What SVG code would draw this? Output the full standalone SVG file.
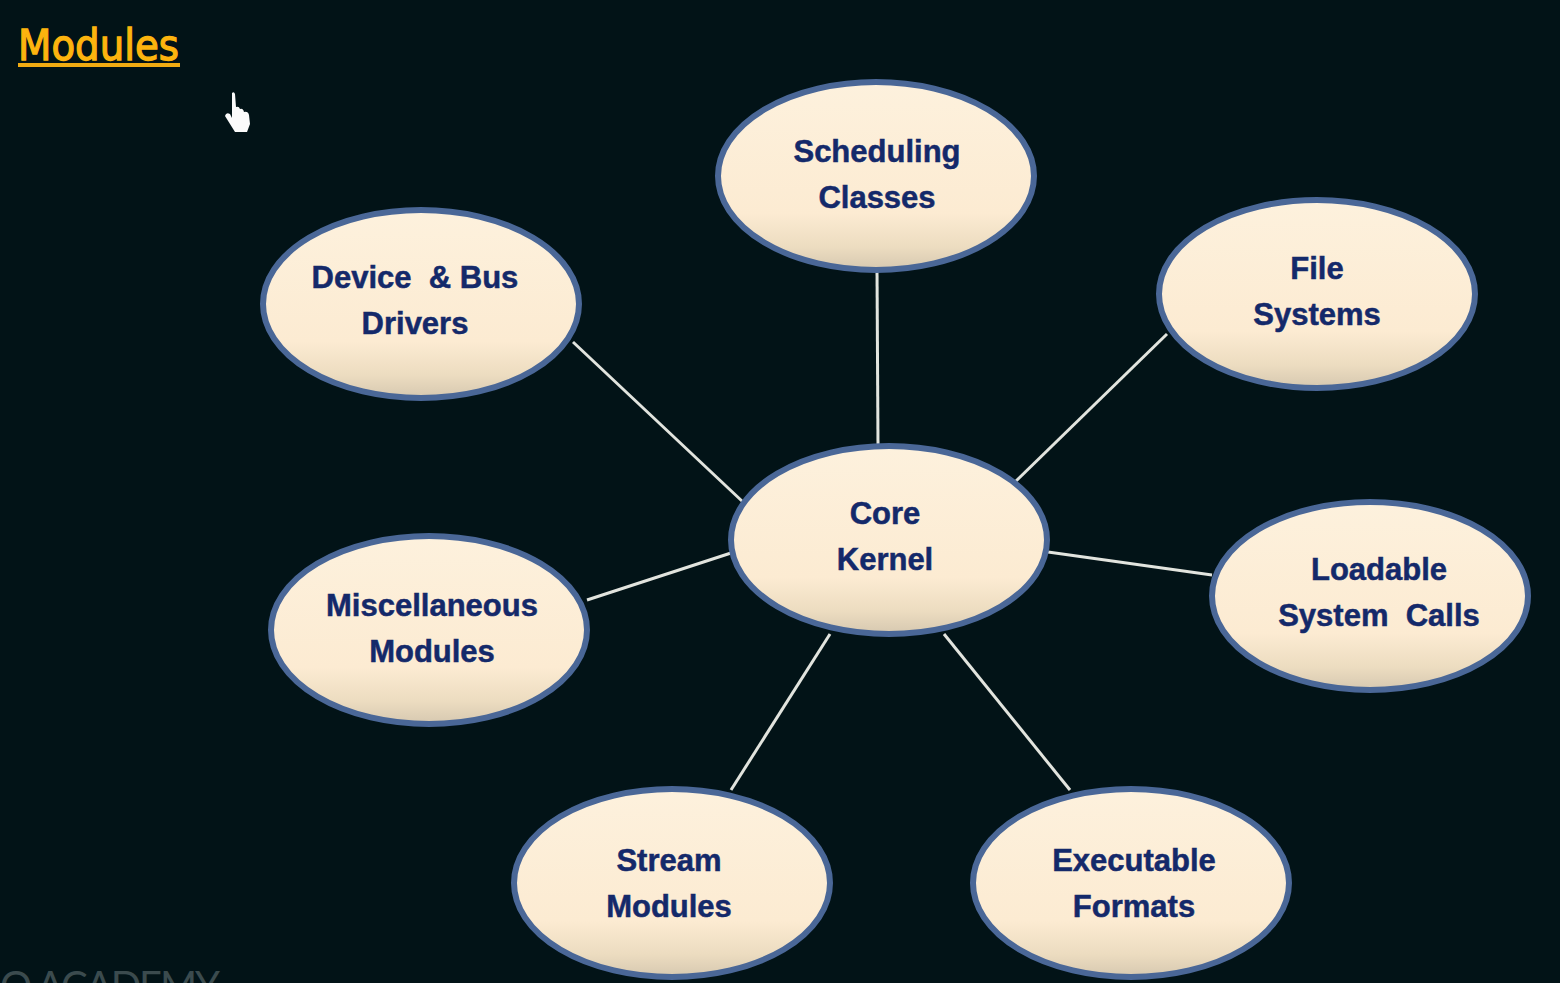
<svg xmlns="http://www.w3.org/2000/svg" width="1560" height="983" viewBox="0 0 1560 983">
<style>
.n{fill:url(#g);stroke:#4a6797;stroke-width:6}
.t{font:bold 31px "Liberation Sans",Arial,sans-serif;fill:#14296a;stroke:#14296a;stroke-width:.5;text-anchor:middle}
.c{stroke:#e2e4de;stroke-width:3;fill:none}
</style>
<defs>
<linearGradient id="g" x1="0" y1="0" x2="0" y2="1">
<stop offset="0" stop-color="#fdf1dd"/><stop offset=".7" stop-color="#fcebd2"/><stop offset=".88" stop-color="#ecdcc0"/><stop offset="1" stop-color="#d6c8b0"/>
</linearGradient>
</defs>
<rect width="1560" height="983" fill="#021317"/>
<text x="0" y="1000" font-family="Lato,'Liberation Sans',sans-serif" font-size="40" fill="#3b4b4e" textLength="222" lengthAdjust="spacing" letter-spacing="2">O ACADEMY</text>
<g id="title">
<text x="18" y="60" font-family="'DejaVu Sans',sans-serif" font-size="43" fill="#fdb40e" stroke="#fdb40e" stroke-width="1.3" textLength="161" lengthAdjust="spacingAndGlyphs">Modules</text>
<rect x="18" y="63" width="162" height="4" fill="#f0ab12"/>
</g>
<path id="cursor" d="M232 93Q234 91 235 94L236 107Q239 106 240 109Q243 108 244 112Q248 111 249 115L250 124L247 132L235 132L225 116Q226 112 230 114L232 118Z" fill="#fbfbfb"/>
<g id="connectors">
<path class="c" d="M877 270L878 446"/>
<path class="c" d="M573 342L743 502"/>
<path class="c" d="M1167 334L1015 482"/>
<path class="c" d="M1048 552L1212 575"/>
<path class="c" d="M731 553L587 600"/>
<path class="c" d="M830 634L731 790"/>
<path class="c" d="M944 634L1070 790"/>
</g>
<g id="scheduling"><ellipse class="n" cx="876" cy="176" rx="158" ry="94"/><text class="t" x="877" y="161.500">Scheduling</text><text class="t" x="877" y="207.500">Classes</text></g>
<g id="device"><ellipse class="n" cx="421" cy="304" rx="158" ry="94"/><text class="t" x="415" y="287.500" xml:space="preserve">Device  &amp; Bus</text><text class="t" x="415" y="333.500">Drivers</text></g>
<g id="file"><ellipse class="n" cx="1317" cy="294" rx="158" ry="94"/><text class="t" x="1317" y="279">File</text><text class="t" x="1317" y="325">Systems</text></g>
<g id="core"><ellipse class="n" cx="889" cy="540" rx="158" ry="94"/><text class="t" x="885" y="523.500">Core</text><text class="t" x="885" y="569.500">Kernel</text></g>
<g id="loadable"><ellipse class="n" cx="1370" cy="596" rx="158" ry="94"/><text class="t" x="1379" y="580">Loadable</text><text class="t" x="1379" y="626" xml:space="preserve">System  Calls</text></g>
<g id="misc"><ellipse class="n" cx="429" cy="630" rx="158" ry="94"/><text class="t" x="432" y="616">Miscellaneous</text><text class="t" x="432" y="662">Modules</text></g>
<g id="stream"><ellipse class="n" cx="672" cy="883" rx="158" ry="94"/><text class="t" x="669" y="870.500">Stream</text><text class="t" x="669" y="916.500">Modules</text></g>
<g id="executable"><ellipse class="n" cx="1131" cy="883" rx="158" ry="94"/><text class="t" x="1134" y="870.500">Executable</text><text class="t" x="1134" y="916.500">Formats</text></g>
</svg>
